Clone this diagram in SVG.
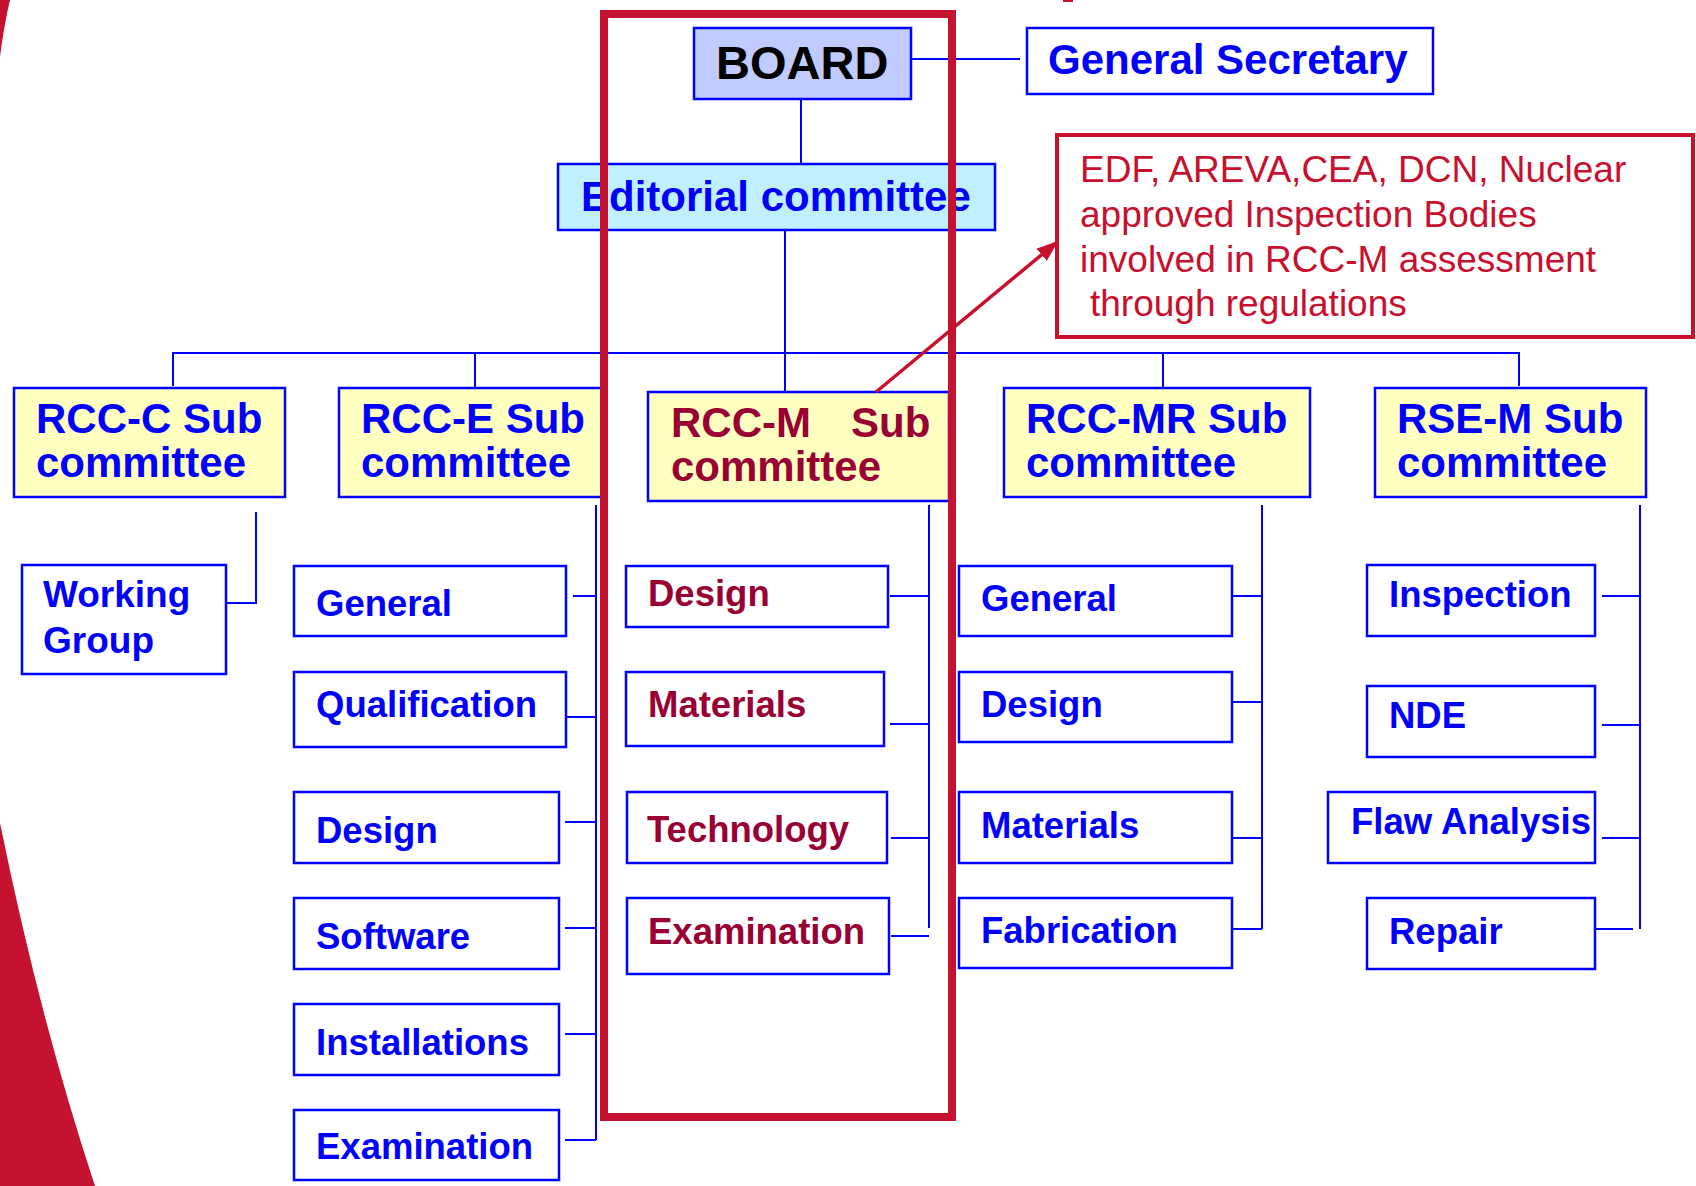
<svg xmlns="http://www.w3.org/2000/svg" width="1696" height="1186" viewBox="0 0 1696 1186">
<style>
.bx{stroke:#0000ff;stroke-width:2.5}
.w{fill:#ffffff}
.y{fill:#ffffc0}
.t{font-family:"Liberation Sans",Arial,sans-serif;font-weight:bold;fill:#0000ff}
.h{font-size:42px}
.c{font-size:36.5px}
.m{fill:#990033}
.ln{stroke:#0000ff;stroke-width:2;fill:none}
.info{font-family:"Liberation Sans",Arial,sans-serif;font-size:37px;fill:#c8102e}
</style>
<defs>
<marker id="ah" markerUnits="userSpaceOnUse" markerWidth="22" markerHeight="16" refX="20" refY="8" orient="auto">
<path d="M0,0 L22,8 L0,16 Z" fill="#c8102e"/>
</marker>
</defs>
<rect width="1696" height="1186" fill="#ffffff"/>
<g id="decor">
<path d="M0,0 L10,0 Q4,25 0,57 Z" fill="#c41230"/>
<path d="M0,823 Q40,1020 95,1186 L0,1186 Z" fill="#c41230"/>
<rect x="1063" y="0" width="10" height="2" fill="#c41230"/>
</g>
<g id="connectors">
<path class="ln" d="M906,59 H1020"/>
<path class="ln" d="M801,88 V164"/>
<path class="ln" d="M785,225 V392"/>
<path class="ln" d="M173,386 V353 H1519 V386"/>
<path class="ln" d="M475,353 V388"/>
<path class="ln" d="M1163,353 V388"/>
<path class="ln" d="M256,512 V603 H226"/>
<path class="ln" d="M596,505 V1140"/>
<path class="ln" d="M573,596 H596 M566,717 H596 M565,822 H596 M565,928 H596 M565,1034 H596 M565,1140 H596"/>
<path class="ln" d="M929,505 V928"/>
<path class="ln" d="M890,596 H929 M890,724 H929 M891,838 H929 M891,936 H929"/>
<path class="ln" d="M1262,505 V929"/>
<path class="ln" d="M1232,596 H1262 M1232,702 H1262 M1232,838 H1262 M1232,929 H1262"/>
<path class="ln" d="M1640,505 V929"/>
<path class="ln" d="M1602,596 H1640 M1602,725 H1640 M1602,838 H1640 M1595,929 H1633"/>
</g>
<g id="board">
<rect class="bx" x="694" y="28" width="217" height="71" fill="#c0cbff"/>
<text x="716" y="79" font-family="Liberation Sans, Arial, sans-serif" font-weight="bold" font-size="47" fill="#000000">BOARD</text>
</g>
<g id="general-secretary">
<rect class="bx w" x="1027" y="28" width="406" height="66"/>
<text class="t h" x="1048" y="74">General Secretary</text>
</g>
<g id="editorial">
<rect class="bx" x="558" y="164" width="437" height="66" fill="#c0f0fc"/>
<text class="t h" x="581" y="211">Editorial committee</text>
</g>
<g id="info">
<rect x="1057" y="135" width="636" height="202" fill="#ffffff" stroke="#c8102e" stroke-width="4"/>
<text class="info" x="1080" y="182">EDF, AREVA,CEA, DCN, Nuclear</text>
<text class="info" x="1080" y="227">approved Inspection Bodies</text>
<text class="info" x="1080" y="272">involved in RCC-M assessment</text>
<text class="info" x="1090" y="316">through regulations</text>
</g>
<g id="rcc-c">
<rect class="bx y" x="14" y="388" width="271" height="109"/>
<text class="t h" x="36" y="433">RCC-C Sub</text>
<text class="t h" x="36" y="477">committee</text>
</g>
<g id="rcc-c-working-group">
<rect class="bx w" x="22" y="565" width="204" height="109"/>
<text class="t" font-size="37" x="43" y="607">Working</text>
<text class="t" font-size="37" x="43" y="653">Group</text>
</g>
<g id="rcc-e">
<rect class="bx y" x="339" y="388" width="265" height="109"/>
<text class="t h" x="361" y="433">RCC-E Sub</text>
<text class="t h" x="361" y="477">committee</text>
</g>
<g id="rcc-e-general"><rect class="bx w" x="294" y="566" width="272" height="70"/><text class="t c" x="316" y="616">General</text></g>
<g id="rcc-e-qualification"><rect class="bx w" x="294" y="672" width="272" height="75"/><text class="t c" x="316" y="717">Qualification</text></g>
<g id="rcc-e-design"><rect class="bx w" x="294" y="792" width="265" height="71"/><text class="t c" x="316" y="843">Design</text></g>
<g id="rcc-e-software"><rect class="bx w" x="294" y="898" width="265" height="71"/><text class="t c" x="316" y="949">Software</text></g>
<g id="rcc-e-installations"><rect class="bx w" x="294" y="1004" width="265" height="71"/><text class="t c" x="316" y="1055">Installations</text></g>
<g id="rcc-e-examination"><rect class="bx w" x="294" y="1110" width="265" height="70"/><text class="t c" x="316" y="1159">Examination</text></g>
<g id="rcc-m">
<rect class="bx y" x="648" y="392" width="301" height="109"/>
<text class="t h m" x="671" y="437">RCC-M</text>
<text class="t h m" x="851" y="437">Sub</text>
<text class="t h m" x="671" y="481">committee</text>
</g>
<g id="rcc-m-design"><rect class="bx w" x="626" y="566" width="262" height="61"/><text class="t c m" x="648" y="606">Design</text></g>
<g id="rcc-m-materials"><rect class="bx w" x="626" y="672" width="258" height="74"/><text class="t c m" x="648" y="717">Materials</text></g>
<g id="rcc-m-technology"><rect class="bx w" x="627" y="792" width="260" height="71"/><text class="t c m" x="647" y="842">Technology</text></g>
<g id="rcc-m-examination"><rect class="bx w" x="627" y="898" width="262" height="76"/><text class="t c m" x="648" y="944">Examination</text></g>
<g id="rcc-mr">
<rect class="bx y" x="1004" y="388" width="306" height="109"/>
<text class="t h" x="1026" y="433">RCC-MR Sub</text>
<text class="t h" x="1026" y="477">committee</text>
</g>
<g id="rcc-mr-general"><rect class="bx w" x="959" y="566" width="273" height="70"/><text class="t c" x="981" y="611">General</text></g>
<g id="rcc-mr-design"><rect class="bx w" x="959" y="672" width="273" height="70"/><text class="t c" x="981" y="717">Design</text></g>
<g id="rcc-mr-materials"><rect class="bx w" x="959" y="792" width="273" height="71"/><text class="t c" x="981" y="838">Materials</text></g>
<g id="rcc-mr-fabrication"><rect class="bx w" x="959" y="898" width="273" height="70"/><text class="t c" x="981" y="943">Fabrication</text></g>
<g id="rse-m">
<rect class="bx y" x="1375" y="388" width="271" height="109"/>
<text class="t h" x="1397" y="433">RSE-M Sub</text>
<text class="t h" x="1397" y="477">committee</text>
</g>
<g id="rse-m-inspection"><rect class="bx w" x="1367" y="565" width="228" height="71"/><text class="t c" x="1389" y="607">Inspection</text></g>
<g id="rse-m-nde"><rect class="bx w" x="1367" y="686" width="228" height="71"/><text class="t c" x="1389" y="728">NDE</text></g>
<g id="rse-m-flaw-analysis"><rect class="bx w" x="1328" y="792" width="267" height="71"/><text class="t c" x="1351" y="834">Flaw Analysis</text></g>
<g id="rse-m-repair"><rect class="bx w" x="1367" y="898" width="228" height="71"/><text class="t c" x="1389" y="944">Repair</text></g>
<g id="highlight">
<rect x="604" y="14" width="348" height="1103" fill="none" stroke="#c41230" stroke-width="8"/>
<path d="M876,392 L1057,242" stroke="#c8102e" stroke-width="3.5" fill="none" marker-end="url(#ah)"/>
</g>
</svg>
